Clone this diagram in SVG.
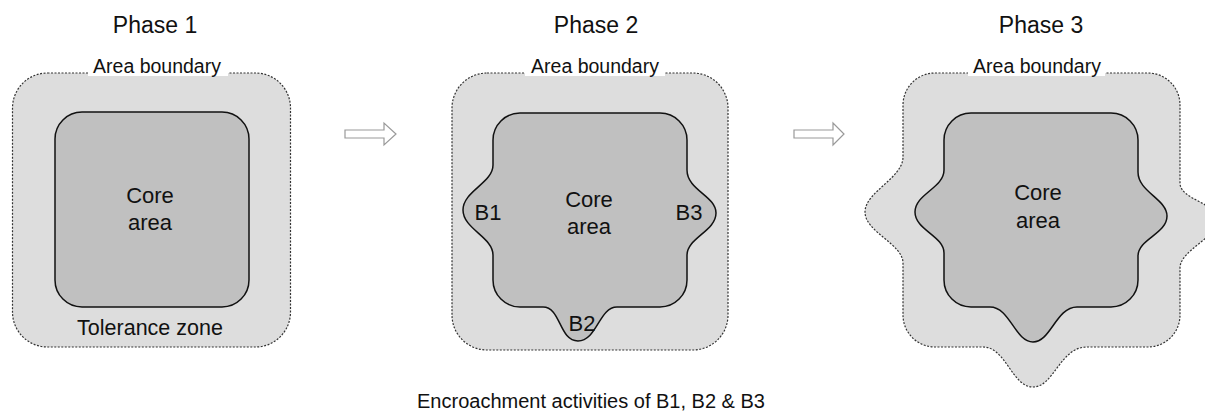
<svg xmlns="http://www.w3.org/2000/svg" width="1205" height="412" viewBox="0 0 1205 412">
<style>
text{font-family:"Liberation Sans",Arial,sans-serif;fill:#111;text-anchor:middle;font-size:22px}
.title{font-size:23px}
.ab{font-size:19.5px}
.tz{font-size:21.5px}
.cap{font-size:20px}
.outer{fill:#dddddd;stroke:#333;stroke-width:1.2;stroke-dasharray:2 1.5}
.inner{fill:#c0c0c0;stroke:#111;stroke-width:1.5}
.gap{fill:#fff;stroke:none}
.arrow{fill:#fff;stroke:#999;stroke-width:1.2}
</style>
<rect width="1205" height="412" fill="#fff"/>
<g id="phase1">
<text class="title" x="155" y="33">Phase 1</text>
<rect class="outer" x="12.5" y="73" width="278" height="274" rx="35"/>
<rect class="gap" x="88" y="60" width="140" height="16"/>
<text class="ab" x="157" y="73">Area boundary</text>
<rect class="inner" x="55" y="112" width="194" height="195" rx="27"/>
<text x="150" y="203">Core</text>
<text x="150" y="230">area</text>
<text class="tz" x="150" y="335">Tolerance zone</text>
</g>
<g id="phase2">
<text class="title" x="596" y="33">Phase 2</text>
<rect class="outer" x="452" y="73" width="276" height="277" rx="35"/>
<rect class="gap" x="525" y="60" width="140" height="16"/>
<text class="ab" x="595" y="73">Area boundary</text>
<path class="inner" d="M 520,113 H 660 A 27 27 0 0 1 687,140 V 170 C 687,190 716,196 716,213 C 716,231 687,238 687,255 V 280 A 27 27 0 0 1 660,307 H 617 C 599,307 597,341 578,341 C 559,341 561,307 543,307 H 520 A 27 27 0 0 1 493,280 V 255 C 493,237 463,229 463,210 C 463,191 493,183 493,165 V 140 A 27 27 0 0 1 520,113 Z"/>
<text x="589" y="207">Core</text>
<text x="589" y="234">area</text>
<text x="488" y="220">B1</text>
<text x="689" y="220">B3</text>
<text x="582" y="331">B2</text>
</g>
<g id="phase3">
<text class="title" x="1041" y="33">Phase 3</text>
<path class="outer" d="M 935,73 H 1148 A 32 32 0 0 1 1180,105 V 183 C 1180,200 1218,203 1218,220 C 1218,237 1180,250 1180,268 V 315 A 32 32 0 0 1 1148,347 H 1087 C 1060,347 1054,387 1033,387 C 1012,387 1006,347 983,347 H 935 A 32 32 0 0 1 903,315 V 263 C 903,244 865,232 865,212 C 865,192 903,178 903,157 V 105 A 32 32 0 0 1 935,73 Z"/>
<rect class="gap" x="968" y="60" width="137" height="16"/>
<text class="ab" x="1037" y="73">Area boundary</text>
<path class="inner" d="M 971,113 H 1111 A 27 27 0 0 1 1138,140 V 172 C 1138,192 1167,199 1167,216 C 1167,234 1138,239 1138,256 V 280 A 27 27 0 0 1 1111,307 H 1077 C 1056,307 1051,342 1033,342 C 1015,342 1010,307 990,307 H 971 A 27 27 0 0 1 944,280 V 253 C 944,236 915,230 915,212 C 915,194 944,188 944,170 V 140 A 27 27 0 0 1 971,113 Z"/>
<text x="1038" y="200">Core</text>
<text x="1038" y="228">area</text>
</g>
<g id="connectors">
<polygon class="arrow" points="345,130 384,130 384,123 396,134 384,145 384,138 345,138"/>
<polygon class="arrow" points="794,130 833,130 833,123 844,134 833,145 833,138 794,138"/>
</g>
<text id="caption" class="cap" x="591" y="408">Encroachment activities of B1, B2 &amp; B3</text>
</svg>
